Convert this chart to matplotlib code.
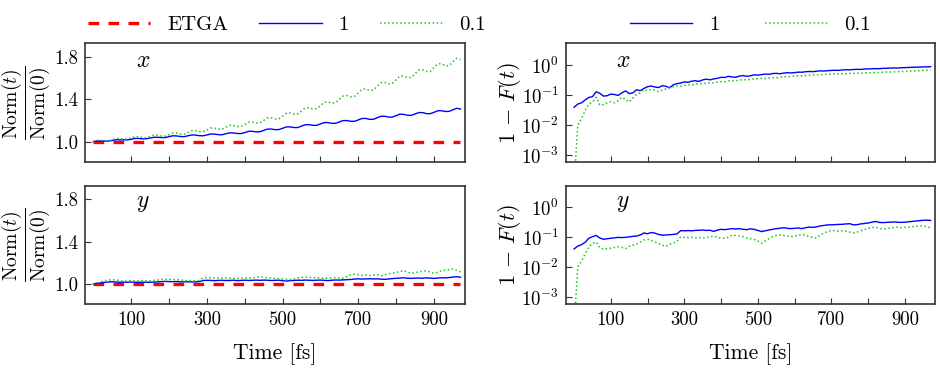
import numpy as np
import matplotlib
matplotlib.use("Agg")
import matplotlib.pyplot as plt
from matplotlib.ticker import NullLocator

plt.rcParams["font.family"] = "serif"
plt.rcParams["font.serif"] = ["cmr10", "DejaVu Serif"]
plt.rcParams["mathtext.fontset"] = "cm"
plt.rcParams["axes.formatter.use_mathtext"] = True
plt.rcParams["axes.unicode_minus"] = False

# time grid [fs]
time_fs = np.arange(0, 971, 10)

# Norm(t)/Norm(0), x polarisation
norm_x_1 = [
    1.000, 1.006, 1.006, 1.005, 1.005, 1.011, 1.017, 1.017, 1.016, 1.016,
    1.022, 1.030, 1.030, 1.026, 1.027, 1.034, 1.041, 1.041, 1.038, 1.038,
    1.047, 1.055, 1.054, 1.048, 1.047, 1.055, 1.063, 1.062, 1.056, 1.055,
    1.063, 1.072, 1.071, 1.066, 1.065, 1.074, 1.083, 1.082, 1.077, 1.076,
    1.085, 1.097, 1.098, 1.092, 1.093, 1.106, 1.118, 1.119, 1.113, 1.114,
    1.126, 1.139, 1.139, 1.133, 1.133, 1.147, 1.160, 1.160, 1.154, 1.154,
    1.167, 1.180, 1.180, 1.173, 1.173, 1.186, 1.199, 1.199, 1.192, 1.192,
    1.205, 1.219, 1.219, 1.211, 1.211, 1.226, 1.240, 1.240, 1.232, 1.232,
    1.246, 1.259, 1.258, 1.249, 1.248, 1.262, 1.275, 1.274, 1.265, 1.264,
    1.277, 1.292, 1.292, 1.285, 1.286, 1.301, 1.315, 1.308,
]
norm_x_01 = [
    1.000, 1.012, 1.012, 1.006, 1.006, 1.018, 1.029, 1.030, 1.023, 1.024,
    1.035, 1.048, 1.047, 1.038, 1.037, 1.050, 1.063, 1.062, 1.053, 1.052,
    1.065, 1.081, 1.081, 1.071, 1.071, 1.087, 1.104, 1.103, 1.094, 1.093,
    1.110, 1.129, 1.128, 1.117, 1.116, 1.135, 1.154, 1.153, 1.142, 1.141,
    1.160, 1.184, 1.185, 1.175, 1.176, 1.200, 1.224, 1.225, 1.215, 1.216,
    1.240, 1.268, 1.271, 1.259, 1.262, 1.290, 1.318, 1.321, 1.309, 1.312,
    1.340, 1.372, 1.376, 1.364, 1.368, 1.400, 1.432, 1.436, 1.424, 1.428,
    1.460, 1.494, 1.498, 1.484, 1.488, 1.522, 1.557, 1.560, 1.547, 1.550,
    1.585, 1.620, 1.622, 1.605, 1.607, 1.642, 1.678, 1.679, 1.663, 1.664,
    1.700, 1.736, 1.736, 1.717, 1.718, 1.754, 1.789, 1.775,
]
# Norm(t)/Norm(0), y polarisation
norm_y_1 = [
    1.000, 1.004, 1.010, 1.014, 1.018, 1.020, 1.018, 1.015, 1.017, 1.016,
    1.018, 1.016, 1.015, 1.017, 1.016, 1.015, 1.017, 1.019, 1.022, 1.024,
    1.022, 1.021, 1.023, 1.020, 1.019, 1.021, 1.018, 1.019, 1.022, 1.032,
    1.034, 1.033, 1.031, 1.033, 1.034, 1.032, 1.033, 1.035, 1.031, 1.033,
    1.035, 1.033, 1.034, 1.036, 1.034, 1.036, 1.035, 1.032, 1.034, 1.035,
    1.030, 1.027, 1.031, 1.033, 1.035, 1.034, 1.036, 1.035, 1.033, 1.035,
    1.036, 1.034, 1.031, 1.035, 1.037, 1.036, 1.038, 1.040, 1.042, 1.046,
    1.048, 1.046, 1.047, 1.049, 1.047, 1.048, 1.045, 1.043, 1.047, 1.050,
    1.053, 1.056, 1.058, 1.054, 1.052, 1.055, 1.056, 1.054, 1.057, 1.055,
    1.052, 1.056, 1.058, 1.057, 1.060, 1.065, 1.068, 1.063,
]
norm_y_01 = [
    1.000, 1.008, 1.020, 1.030, 1.036, 1.040, 1.038, 1.030, 1.027, 1.029,
    1.031, 1.028, 1.030, 1.032, 1.029, 1.031, 1.033, 1.036, 1.042, 1.046,
    1.044, 1.040, 1.043, 1.038, 1.033, 1.030, 1.032, 1.029, 1.033, 1.055,
    1.060, 1.058, 1.055, 1.057, 1.055, 1.058, 1.056, 1.053, 1.050, 1.054,
    1.057, 1.055, 1.058, 1.062, 1.066, 1.064, 1.060, 1.056, 1.052, 1.050,
    1.046, 1.042, 1.040, 1.047, 1.056, 1.062, 1.065, 1.063, 1.058, 1.060,
    1.057, 1.052, 1.055, 1.058, 1.060, 1.057, 1.055, 1.070, 1.088, 1.093,
    1.085, 1.080, 1.085, 1.078, 1.082, 1.088, 1.076, 1.086, 1.097, 1.102,
    1.108, 1.118, 1.126, 1.112, 1.100, 1.106, 1.114, 1.120, 1.124, 1.112,
    1.100, 1.112, 1.126, 1.130, 1.135, 1.143, 1.128, 1.114,
]
etga_norm = [1.0] * len(time_fs)

# 1 - F(t), x polarisation
infid_x_1 = [
    0.039, 0.050, 0.055, 0.068, 0.083, 0.088, 0.128, 0.115, 0.092, 0.095,
    0.108, 0.104, 0.097, 0.118, 0.138, 0.112, 0.118, 0.150, 0.140, 0.165,
    0.190, 0.200, 0.185, 0.178, 0.205, 0.195, 0.175, 0.220, 0.240, 0.250,
    0.275, 0.265, 0.290, 0.300, 0.285, 0.320, 0.340, 0.320, 0.345, 0.360,
    0.390, 0.385, 0.420, 0.400, 0.390, 0.430, 0.445, 0.420, 0.440, 0.470,
    0.460, 0.480, 0.500, 0.490, 0.520, 0.530, 0.510, 0.540, 0.555, 0.545,
    0.560, 0.580, 0.575, 0.600, 0.610, 0.600, 0.625, 0.640, 0.630, 0.650,
    0.660, 0.670, 0.665, 0.685, 0.700, 0.690, 0.710, 0.720, 0.715, 0.735,
    0.745, 0.750, 0.760, 0.755, 0.775, 0.780, 0.790, 0.800, 0.795, 0.815,
    0.820, 0.830, 0.840, 0.845, 0.855, 0.865, 0.870, 0.880,
]
infid_x_01 = [
    0.0001, 0.010, 0.016, 0.030, 0.050, 0.058, 0.085, 0.046, 0.048, 0.055,
    0.060, 0.055, 0.065, 0.085, 0.072, 0.058, 0.080, 0.105, 0.120, 0.150,
    0.140, 0.155, 0.145, 0.128, 0.145, 0.160, 0.175, 0.190, 0.200, 0.195,
    0.210, 0.220, 0.215, 0.230, 0.240, 0.235, 0.250, 0.260, 0.255, 0.270,
    0.280, 0.275, 0.295, 0.305, 0.300, 0.315, 0.325, 0.320, 0.335, 0.345,
    0.350, 0.360, 0.355, 0.370, 0.380, 0.375, 0.390, 0.400, 0.410, 0.415,
    0.430, 0.435, 0.440, 0.450, 0.455, 0.460, 0.470, 0.475, 0.485, 0.490,
    0.500, 0.505, 0.510, 0.515, 0.520, 0.525, 0.530, 0.535, 0.540, 0.545,
    0.550, 0.555, 0.560, 0.565, 0.575, 0.580, 0.585, 0.590, 0.600, 0.605,
    0.610, 0.620, 0.630, 0.640, 0.650, 0.660, 0.670, 0.680,
]
# 1 - F(t), y polarisation
infid_y_1 = [
    0.041, 0.051, 0.057, 0.068, 0.093, 0.105, 0.116, 0.095, 0.086, 0.090,
    0.093, 0.096, 0.100, 0.098, 0.100, 0.104, 0.108, 0.110, 0.120, 0.140,
    0.132, 0.145, 0.138, 0.125, 0.118, 0.120, 0.122, 0.125, 0.130, 0.167,
    0.165, 0.168, 0.165, 0.170, 0.172, 0.175, 0.170, 0.172, 0.158, 0.175,
    0.185, 0.180, 0.188, 0.195, 0.190, 0.195, 0.185, 0.180, 0.192, 0.185,
    0.170, 0.155, 0.165, 0.175, 0.185, 0.195, 0.200, 0.210, 0.200, 0.195,
    0.200, 0.205, 0.195, 0.210, 0.220, 0.215, 0.225, 0.240, 0.250, 0.260,
    0.262, 0.265, 0.270, 0.272, 0.280, 0.285, 0.260, 0.265, 0.280, 0.290,
    0.300, 0.320, 0.340, 0.315, 0.310, 0.315, 0.320, 0.325, 0.320, 0.315,
    0.320, 0.330, 0.340, 0.350, 0.360, 0.370, 0.375, 0.365,
]
infid_y_01 = [
    0.0001, 0.010, 0.016, 0.028, 0.048, 0.062, 0.070, 0.045, 0.040, 0.042,
    0.043, 0.046, 0.049, 0.046, 0.042, 0.050, 0.055, 0.060, 0.070, 0.082,
    0.086, 0.078, 0.072, 0.062, 0.055, 0.050, 0.058, 0.065, 0.072, 0.105,
    0.100, 0.098, 0.100, 0.095, 0.100, 0.095, 0.098, 0.105, 0.110, 0.100,
    0.095, 0.092, 0.100, 0.120, 0.115, 0.110, 0.105, 0.095, 0.090, 0.085,
    0.075, 0.063, 0.075, 0.090, 0.105, 0.115, 0.120, 0.115, 0.110, 0.105,
    0.110, 0.118, 0.125, 0.115, 0.105, 0.100, 0.095, 0.120, 0.140, 0.155,
    0.170, 0.165, 0.160, 0.165, 0.160, 0.150, 0.140, 0.150, 0.165, 0.180,
    0.200, 0.210, 0.220, 0.200, 0.190, 0.195, 0.205, 0.215, 0.220, 0.210,
    0.215, 0.220, 0.225, 0.235, 0.240, 0.240, 0.225, 0.205,
]

xticks = [100, 200, 300, 400, 500, 600, 700, 800, 900]
xtick_labels = ["100", "", "300", "", "500", "", "700", "", "900"]
norm_yticks = [1.0, 1.4, 1.8]
log_yticks = [1e-3, 1e-2, 1e-1, 1e0]

RED, BLUE, GREEN = "#ff0000", "#0000ff", "#1cc41c"
SPINE = "#333333"

fig = plt.figure(figsize=(9.4, 3.73), dpi=100)
ax_lt = fig.add_axes([0.0904, 0.5665, 0.4043, 0.3174])
ax_lb = fig.add_axes([0.0904, 0.185, 0.4043, 0.3174])
ax_rt = fig.add_axes([0.6021, 0.5665, 0.3926, 0.3174])
ax_rb = fig.add_axes([0.6021, 0.185, 0.3926, 0.3174])


def style(ax, bottom_row):
    for sp in ax.spines.values():
        sp.set_color(SPINE)
        sp.set_linewidth(1.2)
    ax.tick_params(direction="in", length=4, width=0.8, color=SPINE,
                   labelsize=13.5, top=False, right=False, pad=5)
    ax.set_xlim(-22, 982)
    ax.set_xticks(xticks)
    if bottom_row:
        ax.set_xticklabels(xtick_labels)
        ax.set_xlabel("Time [fs]", fontsize=15.5, labelpad=10)
    else:
        ax.set_xticklabels([])


for ax, nv1, nv01, lab in [(ax_lt, norm_x_1, norm_x_01, "x"),
                           (ax_lb, norm_y_1, norm_y_01, "y")]:
    ax.plot(time_fs, etga_norm, color=RED, lw=2.4, dashes=(3.2, 2.8), label="ETGA")
    ax.plot(time_fs, nv1, color=BLUE, lw=1.0, label="1")
    ax.plot(time_fs, nv01, color=GREEN, lw=1.1, ls=":", label="0.1")
    ax.set_ylim(0.81, 1.93)
    ax.set_yticks(norm_yticks)
    ax.set_yticklabels(["1.0", "1.4", "1.8"])
    ax.set_ylabel(r"$\dfrac{\mathrm{Norm}(t)}{\mathrm{Norm}(0)}$", fontsize=14)
    ax.yaxis.set_label_coords(-0.088, 0.5)
    ax.text(0.153, 0.85, "$" + lab + "$", transform=ax.transAxes,
            fontsize=17, ha="center", va="center")
    style(ax, ax is ax_lb)

for ax, fv1, fv01, lab in [(ax_rt, infid_x_1, infid_x_01, "x"),
                           (ax_rb, infid_y_1, infid_y_01, "y")]:
    ax.plot(time_fs, fv1, color=BLUE, lw=1.0, label="1")
    ax.plot(time_fs, fv01, color=GREEN, lw=1.1, ls=":", label="0.1")
    ax.set_yscale("log")
    ax.set_ylim(6e-4, 5.3)
    ax.set_yticks(log_yticks)
    ax.yaxis.set_minor_locator(NullLocator())
    ax.set_ylabel(r"$1\,-\,F(t)$", fontsize=16)
    ax.yaxis.set_label_coords(-0.117, 0.5)
    ax.text(0.154, 0.85, "$" + lab + "$", transform=ax.transAxes,
            fontsize=17, ha="center", va="center")
    style(ax, ax is ax_rb)

ax_lt.legend(loc="lower left", bbox_to_anchor=(-0.02, 0.99), ncol=3, frameon=False,
             fontsize=15, handlelength=3.0, columnspacing=1.5, borderaxespad=0.1)
ax_rt.legend(loc="lower center", bbox_to_anchor=(0.5, 0.99), ncol=2, frameon=False,
             fontsize=15, handlelength=3.0, columnspacing=2.2, borderaxespad=0.1)

fig.savefig("out.png", dpi=100)
